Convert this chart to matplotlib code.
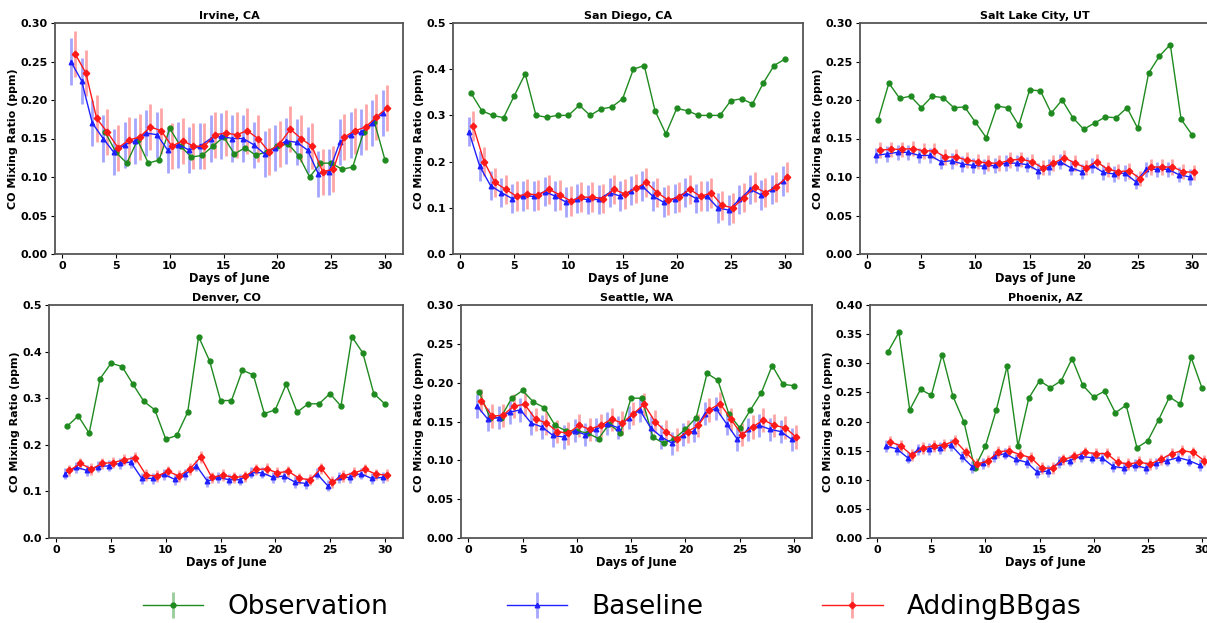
import numpy as np
import matplotlib
matplotlib.use('Agg')
import matplotlib.pyplot as plt

days = np.arange(1, 31)
nan = np.nan

cities = ['Irvine, CA', 'San Diego, CA', 'Salt Lake City, UT',
          'Denver, CO', 'Seattle, WA', 'Phoenix, AZ']
y_tops = [0.30, 0.5, 0.30, 0.5, 0.30, 0.40]
model_err = [0.03, 0.032, 0.01, 0.012, 0.015, 0.01]

# Irvine, CA
obs_irvine = [nan, nan, nan, 0.158, 0.132, 0.118, 0.148, 0.118, 0.122, 0.163,
              0.140, 0.126, 0.128, 0.140, 0.152, 0.130, 0.138, 0.128, 0.133, 0.140,
              0.143, 0.127, 0.100, 0.118, 0.118, 0.110, 0.113, 0.158, 0.172, 0.122]
base_irvine = [0.250, 0.225, 0.170, 0.150, 0.132, 0.142, 0.147, 0.157, 0.155, 0.135,
               0.142, 0.135, 0.140, 0.150, 0.153, 0.150, 0.150, 0.142, 0.130, 0.138,
               0.147, 0.145, 0.135, 0.104, 0.107, 0.145, 0.155, 0.158, 0.170, 0.183]
bb_irvine = [0.260, 0.235, 0.176, 0.158, 0.138, 0.148, 0.152, 0.165, 0.160, 0.140,
             0.147, 0.140, 0.140, 0.155, 0.157, 0.155, 0.160, 0.150, 0.133, 0.143,
             0.162, 0.150, 0.140, 0.107, 0.110, 0.152, 0.160, 0.165, 0.178, 0.190]

# San Diego, CA
obs_sandiego = [0.348, 0.310, 0.300, 0.295, 0.343, 0.390, 0.300, 0.296, 0.300, 0.300,
                0.322, 0.300, 0.314, 0.318, 0.336, 0.400, 0.408, 0.310, 0.260, 0.315,
                0.310, 0.300, 0.300, 0.300, 0.332, 0.336, 0.325, 0.370, 0.408, 0.422]
base_sandiego = [0.265, 0.190, 0.148, 0.133, 0.120, 0.125, 0.125, 0.135, 0.125, 0.112,
                 0.120, 0.118, 0.118, 0.133, 0.125, 0.137, 0.147, 0.125, 0.112, 0.120,
                 0.133, 0.120, 0.125, 0.100, 0.095, 0.118, 0.140, 0.128, 0.140, 0.158]
bb_sandiego = [0.277, 0.200, 0.155, 0.140, 0.125, 0.130, 0.128, 0.140, 0.128, 0.115,
               0.123, 0.123, 0.120, 0.140, 0.130, 0.142, 0.155, 0.133, 0.117, 0.123,
               0.140, 0.125, 0.132, 0.105, 0.100, 0.122, 0.145, 0.133, 0.145, 0.167]

# Salt Lake City, UT
obs_slc = [0.174, 0.222, 0.202, 0.205, 0.190, 0.205, 0.203, 0.190, 0.191, 0.171,
           0.151, 0.192, 0.190, 0.167, 0.213, 0.212, 0.183, 0.200, 0.177, 0.162,
           0.170, 0.178, 0.177, 0.190, 0.163, 0.235, 0.257, 0.272, 0.175, 0.155]
base_slc = [0.128, 0.130, 0.132, 0.132, 0.128, 0.128, 0.120, 0.121, 0.117, 0.115,
            0.114, 0.115, 0.118, 0.118, 0.116, 0.108, 0.113, 0.120, 0.112, 0.107,
            0.115, 0.106, 0.104, 0.105, 0.094, 0.110, 0.110, 0.110, 0.103, 0.100]
bb_slc = [0.135, 0.136, 0.136, 0.137, 0.134, 0.134, 0.126, 0.126, 0.122, 0.120,
          0.118, 0.118, 0.122, 0.123, 0.120, 0.112, 0.118, 0.125, 0.118, 0.112,
          0.120, 0.110, 0.107, 0.108, 0.098, 0.113, 0.113, 0.113, 0.107, 0.106]

# Denver, CO
obs_denver = [0.240, 0.262, 0.225, 0.342, 0.375, 0.368, 0.330, 0.293, 0.275, 0.212,
              0.220, 0.270, 0.432, 0.380, 0.295, 0.295, 0.360, 0.350, 0.267, 0.275,
              0.330, 0.270, 0.288, 0.288, 0.310, 0.283, 0.432, 0.397, 0.310, 0.288]
base_denver = [0.138, 0.152, 0.145, 0.153, 0.155, 0.160, 0.163, 0.128, 0.128, 0.137,
               0.126, 0.137, 0.155, 0.122, 0.130, 0.125, 0.125, 0.140, 0.140, 0.130,
               0.133, 0.120, 0.117, 0.138, 0.112, 0.130, 0.130, 0.138, 0.128, 0.130]
bb_denver = [0.145, 0.160, 0.148, 0.160, 0.162, 0.168, 0.172, 0.135, 0.133, 0.143,
             0.133, 0.148, 0.174, 0.130, 0.135, 0.130, 0.132, 0.147, 0.148, 0.140,
             0.143, 0.128, 0.125, 0.150, 0.120, 0.133, 0.140, 0.147, 0.137, 0.135]

# Seattle, WA
obs_seattle = [0.188, 0.155, 0.155, 0.180, 0.190, 0.175, 0.168, 0.145, 0.138, 0.138,
               0.135, 0.128, 0.147, 0.135, 0.180, 0.180, 0.130, 0.122, 0.128, 0.140,
               0.155, 0.212, 0.203, 0.160, 0.142, 0.165, 0.187, 0.222, 0.198, 0.196]
base_seattle = [0.170, 0.153, 0.155, 0.162, 0.165, 0.148, 0.143, 0.132, 0.130, 0.138,
                0.133, 0.140, 0.147, 0.142, 0.155, 0.165, 0.142, 0.130, 0.122, 0.133,
                0.138, 0.160, 0.167, 0.147, 0.127, 0.140, 0.145, 0.140, 0.137, 0.127]
bb_seattle = [0.177, 0.157, 0.158, 0.170, 0.172, 0.153, 0.148, 0.137, 0.135, 0.145,
              0.140, 0.145, 0.153, 0.148, 0.160, 0.172, 0.150, 0.137, 0.127, 0.137,
              0.145, 0.165, 0.173, 0.153, 0.133, 0.143, 0.152, 0.145, 0.142, 0.130]

# Phoenix, AZ
obs_phoenix = [0.320, 0.353, 0.220, 0.255, 0.245, 0.315, 0.243, 0.200, 0.120, 0.158,
               0.220, 0.295, 0.158, 0.240, 0.270, 0.258, 0.270, 0.308, 0.262, 0.242,
               0.252, 0.215, 0.228, 0.155, 0.167, 0.203, 0.242, 0.230, 0.310, 0.258]
base_phoenix = [0.158, 0.153, 0.138, 0.152, 0.153, 0.155, 0.160, 0.140, 0.122, 0.128,
                0.140, 0.145, 0.135, 0.130, 0.113, 0.115, 0.130, 0.133, 0.140, 0.138,
                0.137, 0.123, 0.120, 0.125, 0.120, 0.128, 0.133, 0.138, 0.133, 0.125]
bb_phoenix = [0.165, 0.158, 0.142, 0.155, 0.158, 0.160, 0.167, 0.147, 0.127, 0.132,
              0.148, 0.150, 0.143, 0.138, 0.120, 0.120, 0.135, 0.140, 0.147, 0.145,
              0.145, 0.130, 0.127, 0.130, 0.127, 0.135, 0.145, 0.150, 0.147, 0.133]

obs_all = [obs_irvine, obs_sandiego, obs_slc, obs_denver, obs_seattle, obs_phoenix]
base_all = [base_irvine, base_sandiego, base_slc, base_denver, base_seattle, base_phoenix]
bb_all = [bb_irvine, bb_sandiego, bb_slc, bb_denver, bb_seattle, bb_phoenix]

# axes boxes in pixels: left, top, right, bottom (figure is 1207x623)
W, H = 1207, 623
boxes = [(55, 23, 403, 254), (453, 23, 803, 254), (860, 23, 1210, 254),
         (49, 305, 403, 538), (461, 305, 812, 538), (870, 305, 1220, 538)]

fs = 8
fig = plt.figure(figsize=(W / 100, H / 100), dpi=100)

for i in range(6):
    l, t, r, b = boxes[i]
    ax = fig.add_axes([l / W, 1 - b / H, (r - l) / W, (b - t) / H])
    e = model_err[i]
    h1 = ax.errorbar(days, obs_all[i], yerr=0, color='#1f8a1f', marker='o', markersize=3.5,
                     lw=1.0, elinewidth=2.0, ecolor=(0, 0.5, 0, 0.4), label='Observation')
    h2 = ax.errorbar(days - 0.2, base_all[i], yerr=e, color='#2020ff', marker='^', markersize=3.3,
                     lw=1.0, elinewidth=2.0, ecolor=(0.3, 0.3, 1, 0.5), label='Baseline')
    h3 = ax.errorbar(days + 0.2, bb_all[i], yerr=e, color='#ff1a1a', marker='D', markersize=3.3,
                     lw=1.0, elinewidth=2.0, ecolor=(1, 0.3, 0.3, 0.5), label='AddingBBgas')
    ax.set_ylim(0, y_tops[i])
    ax.set_xticks([0, 5, 10, 15, 20, 25, 30])
    ax.set_title(cities[i], fontsize=fs, weight='bold', pad=3)
    ax.set_xlabel('Days of June', fontsize=fs + 0.3, weight='bold', labelpad=1)
    ax.set_ylabel('CO Mixing Ratio (ppm)', fontsize=fs, weight='bold', labelpad=2)
    ax.tick_params(labelsize=fs, length=3, pad=2)
    for lab in ax.get_xticklabels() + ax.get_yticklabels():
        lab.set_fontweight('bold')
    for sp in ax.spines.values():
        sp.set_color('#555555')
        sp.set_linewidth(1.3)

leg = fig.legend([h1, h2, h3], ['Observation', 'Baseline', 'AddingBBgas'], loc='center',
                 bbox_to_anchor=(0.507, 1 - 607 / H), ncol=3, frameon=False, fontsize=19,
                 columnspacing=4.5, handlelength=2.3, handletextpad=0.9)

fig.savefig('out.png', dpi=100)
